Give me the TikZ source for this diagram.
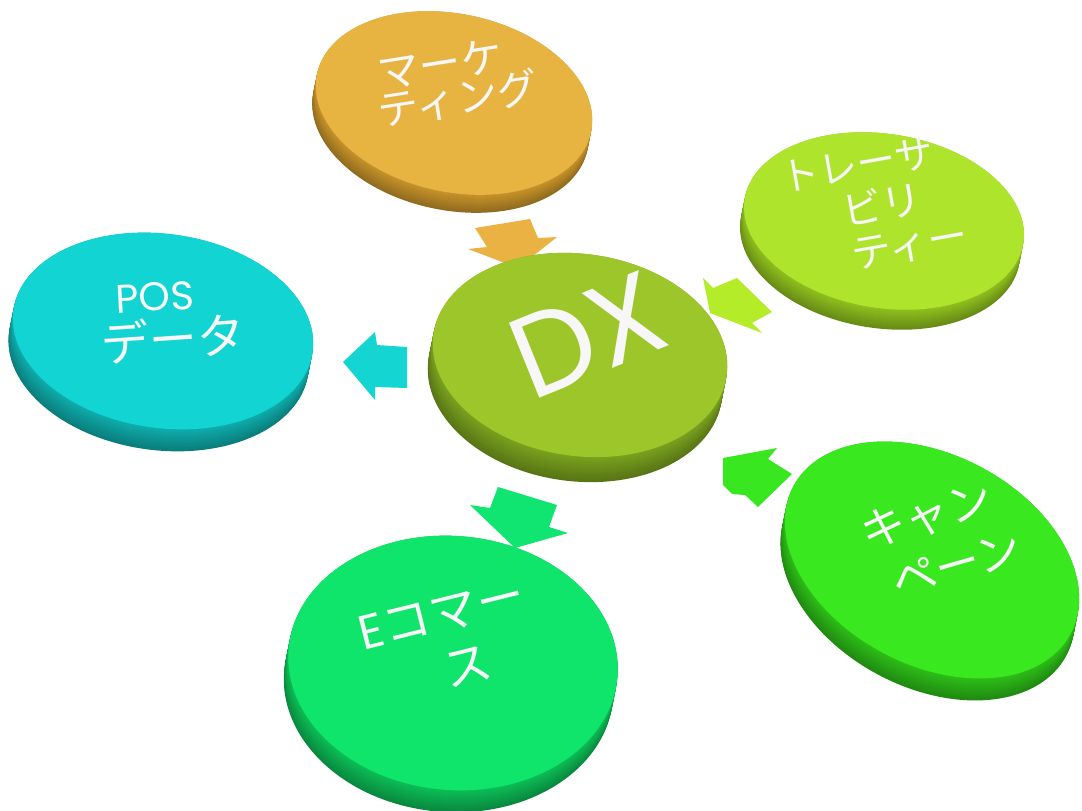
\documentclass[tikz,border=0pt]{standalone}
\usepackage{fontspec}
\setmainfont{Noto Sans CJK JP}
\newfontfamily\pop{Poppins}
\usetikzlibrary{shapes.geometric}

\definecolor{orTop}{HTML}{E8B441}
\definecolor{orSide}{HTML}{C9952A}
\definecolor{orArr}{HTML}{EAB243}
\definecolor{trTop}{HTML}{AEE42C}
\definecolor{trSide}{HTML}{90C21E}
\definecolor{trArr}{HTML}{B5EC2A}
\definecolor{cyTop}{HTML}{12D4D2}
\definecolor{cySide}{HTML}{0EAFAD}
\definecolor{cyArr}{HTML}{14D5D2}
\definecolor{dxTop}{HTML}{9DC62B}
\definecolor{dxSide}{HTML}{7BA31E}
\definecolor{ecTop}{HTML}{0FE46B}
\definecolor{ecSide}{HTML}{0CBF57}
\definecolor{ecArr}{HTML}{10E571}
\definecolor{cpTop}{HTML}{3AE820}
\definecolor{cpSide}{HTML}{2DC018}
\definecolor{cpArr}{HTML}{38E71F}
\definecolor{lblWhite}{HTML}{F7F7F7}

% name, cx, cy, a, b, angle, top colour, side colour, thickness
\newcommand{\mydisk}[9]{%
  \foreach \i in {0,...,#9}{%
    \pgfmathtruncatemacro{\dk}{#9-\i}%
    \pgfmathtruncatemacro{\mx}{72+28*\i/#9}%
    \fill[#8!\mx!black, shift={({#2-0.2*\dk},{#3+\dk})}, rotate=#6] (0,0) ellipse ({#4} and {#5});
  }
  \node[diskface, fill=#7, minimum width={2*#4pt}, minimum height={2*#5pt}, rotate=#6] (#1) at (#2,#3) {};
}

% name, x, y, rotation, size, text
\newcommand{\lbl}[6]{%
  \node[disktext, rotate=#4, font=\fontsize{#5}{#5}\selectfont] (#1) at (#2,#3) {#6};
}

\begin{document}
\begin{tikzpicture}[x=1pt,y=-1pt,
  diskface/.style={ellipse, inner sep=0pt, outer sep=0pt},
  disktext/.style={inner sep=0pt, outer sep=0pt, text=lblWhite},
  blockarrow/.style={draw=none}]
\useasboundingbox (0,0) rectangle (1082,811);
\fill[white] (0,0) rectangle (1082,811);

% block arrows
\fill[blockarrow, orArr] (475,228) -- (530,219) -- (538,238) -- (557,237) -- (518,268) -- (468,249) -- (487,247) -- cycle;
\fill[blockarrow, trArr] (703,278) -- (713,288) -- (737,278) -- (772,312) -- (752,323) -- (762,333) -- (710,313) -- cycle;
\fill[blockarrow, cyArr] (343,362) -- (375,332) -- (377,345) -- (407,347) -- (407,388) -- (375,387) -- (375,400) -- cycle;
\fill[blockarrow, ecArr] (498,487) -- (557,505) -- (549,527) -- (568,533) -- (515,548) -- (470,505) -- (490,508) -- cycle;
\fill[blockarrow, cpArr] (723,458) -- (777,448) -- (768,459) -- (792,474) -- (758,507) -- (745,495) -- (732,494) -- (723,485) -- cycle;

% disks
\mydisk{mk}{454}{103}{140}{89}{-12}{orTop}{orSide}{18}
\mydisk{tr}{884}{221}{141}{87}{-9}{trTop}{trSide}{20}
\mydisk{pos}{163}{331}{151}{97}{-8}{cyTop}{cySide}{22}
\mydisk{dx}{580}{355}{148}{101}{-8}{dxTop}{dxSide}{25}
\mydisk{cp}{932}{560}{157}{105}{-28}{cpTop}{cpSide}{22}
\mydisk{ec}{453}{663}{165}{127}{-5}{ecTop}{ecSide}{22}

% labels
\lbl{mk1}{440}{64}{9}{42}{マーケ}
\lbl{mk2}{458}{98}{9}{41}{ティング}
\lbl{tr1}{857}{165}{10}{39}{トレーサ}
\lbl{tr2}{882}{204}{10}{40}{ビリ}
\lbl{tr3}{910}{246}{10}{40}{ティー}
\lbl{pos1}{155}{297}{3}{40}{\pop POS}
\lbl{pos2}{173}{338}{4}{48}{データ}
\lbl{dxl}{588}{335}{22}{116}{\pop DX}
\lbl{ec1}{442}{615}{14}{48}{{\pop E}コマー}
\lbl{ec2}{468}{667}{14}{48}{ス}
\lbl{cp1}{927}{516}{16}{45}{キャン}
\lbl{cp2}{957}{565}{16}{45}{ペーン}
\end{tikzpicture}
\end{document}
